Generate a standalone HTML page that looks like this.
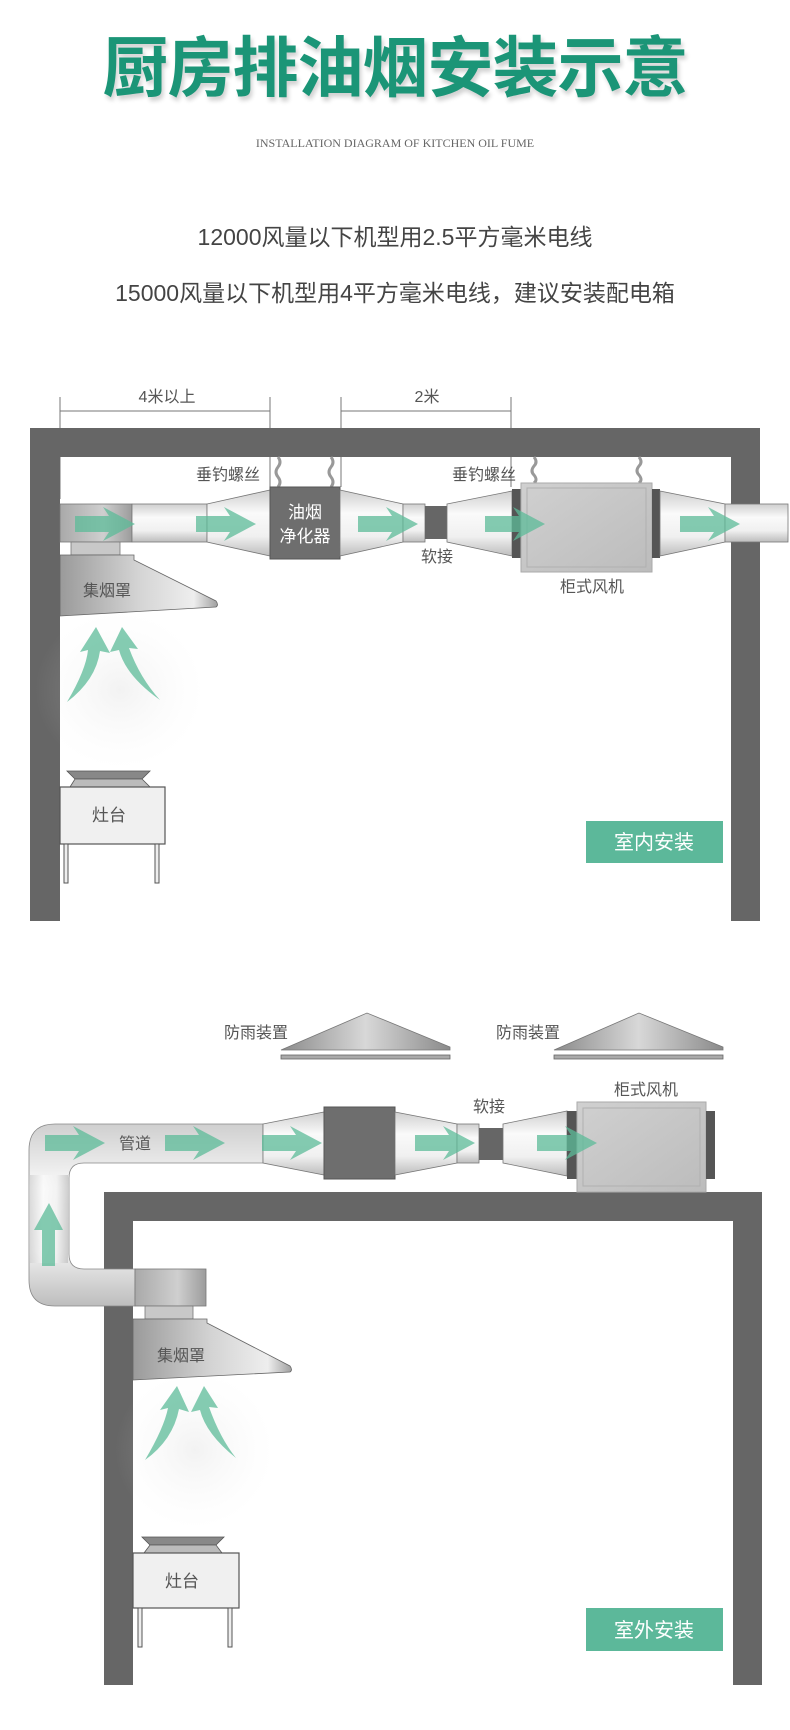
<!DOCTYPE html>
<html><head><meta charset="utf-8"><style>
html,body{margin:0;padding:0;background:#fff;}
body{width:790px;height:1730px;position:relative;overflow:hidden;font-family:"Liberation Sans","Noto Sans CJK SC",sans-serif;}
.t{position:absolute;left:0;width:790px;text-align:center;}
</style></head><body>
<div class="t" style="top:13px;font-size:66px;font-weight:bold;color:#1b9577;letter-spacing:-1px;line-height:100px;font-family:'Noto Sans CJK SC',sans-serif;text-shadow:2px 4px 4px rgba(0,0,0,0.18);">厨房排油烟安装示意</div>
<div class="t" style="top:134px;font-size:12px;color:#666;font-family:'Liberation Serif',serif;line-height:18px;">INSTALLATION DIAGRAM OF KITCHEN OIL FUME</div>
<div class="t" style="top:221px;font-size:23px;color:#444;line-height:32px;">12000风量以下机型用2.5平方毫米电线</div>
<div class="t" style="top:277px;font-size:23px;color:#444;line-height:32px;">15000风量以下机型用4平方毫米电线，建议安装配电箱</div>

<svg width="790" height="1730" style="position:absolute;left:0;top:0" xmlns="http://www.w3.org/2000/svg" font-family="Liberation Sans,Noto Sans CJK SC,sans-serif">
<defs>
<linearGradient id="pipe" x1="0" y1="0" x2="0" y2="1"><stop offset="0" stop-color="#cfcfcf"/><stop offset="0.35" stop-color="#fafafa"/><stop offset="0.7" stop-color="#f0f0f0"/><stop offset="1" stop-color="#bdbdbd"/></linearGradient>
<linearGradient id="pipeV" x1="0" y1="0" x2="1" y2="0"><stop offset="0" stop-color="#cfcfcf"/><stop offset="0.35" stop-color="#fafafa"/><stop offset="0.7" stop-color="#f0f0f0"/><stop offset="1" stop-color="#bdbdbd"/></linearGradient>
<linearGradient id="dark" x1="0" y1="0" x2="1" y2="0"><stop offset="0" stop-color="#a9a9a9"/><stop offset="0.6" stop-color="#cfcfcf"/><stop offset="1" stop-color="#9c9c9c"/></linearGradient>
<linearGradient id="hood" x1="0" y1="0" x2="1" y2="0"><stop offset="0" stop-color="#9a9a9a"/><stop offset="0.5" stop-color="#d4d4d4"/><stop offset="0.85" stop-color="#eeeeee"/><stop offset="1" stop-color="#a0a0a0"/></linearGradient>
<linearGradient id="roof" x1="0" y1="0" x2="1" y2="0"><stop offset="0" stop-color="#8a8a8a"/><stop offset="0.5" stop-color="#d8d8d8"/><stop offset="1" stop-color="#8a8a8a"/></linearGradient>
<linearGradient id="fan" x1="0" y1="0" x2="1" y2="1"><stop offset="0" stop-color="#d0d0d0"/><stop offset="1" stop-color="#bcbcbc"/></linearGradient>
<radialGradient id="smoke"><stop offset="0" stop-color="#ccc" stop-opacity="0.25"/><stop offset="1" stop-color="#eee" stop-opacity="0"/></radialGradient>
<path id="arr" d="M0,-8 H34 L28,-17 L60,0 L28,17 L34,8 H0 Z" fill="#5cbb98" fill-opacity="0.75"/>
</defs>

<!-- ============ SECTION 1 ============ -->
<g>
<g stroke="#777" stroke-width="1" fill="none">
<line x1="60" y1="397" x2="60" y2="499"/><line x1="270" y1="397" x2="270" y2="487"/><line x1="60" y1="411" x2="270" y2="411"/>
<line x1="341" y1="397" x2="341" y2="487"/><line x1="511" y1="397" x2="511" y2="487"/><line x1="341" y1="411" x2="511" y2="411"/>
</g>
<text x="167" y="402" font-size="16" fill="#555" text-anchor="middle">4米以上</text>
<text x="427" y="402" font-size="16" fill="#555" text-anchor="middle">2米</text>
<path d="M30,428 H760 V921 H731 V457 H60 V921 H30 Z" fill="#666"/>
<g stroke="#999" stroke-width="3" fill="none">
<path d="M278,457 q4,5 0,10 q-4,5 0,10 q4,5 0,10"/>
<path d="M331,457 q4,5 0,10 q-4,5 0,10 q4,5 0,10"/>
<path d="M534,457 q4,5 0,9 q-4,5 0,9 q4,5 0,8"/>
<path d="M639,457 q4,5 0,9 q-4,5 0,9 q4,5 0,8"/>
</g>
<text x="228" y="480" font-size="16" fill="#555" text-anchor="middle">垂钓螺丝</text>
<text x="484" y="480" font-size="16" fill="#555" text-anchor="middle">垂钓螺丝</text>
<rect x="60" y="504" width="72" height="38" fill="url(#dark)" stroke="#777" stroke-width="0.8"/>
<rect x="132" y="504" width="75" height="38" fill="url(#pipe)" stroke="#777" stroke-width="0.8"/>
<path d="M207,504 L270,490 V556 L207,542 Z" fill="url(#pipe)" stroke="#777" stroke-width="0.8"/>
<rect x="270" y="487" width="70" height="72" fill="#6e6e6e" stroke="#555"/>
<text x="305" y="518" font-size="17" fill="#fff" text-anchor="middle">油烟</text>
<text x="305" y="542" font-size="17" fill="#fff" text-anchor="middle">净化器</text>
<path d="M340,490 L403,504 V542 L340,556 Z" fill="url(#pipe)" stroke="#777" stroke-width="0.8"/>
<rect x="403" y="504" width="22" height="38" fill="url(#pipe)" stroke="#777" stroke-width="0.8"/>
<rect x="425" y="506" width="22" height="33" fill="#666"/>
<path d="M447,504 L512,491 V556 L447,542 Z" fill="url(#pipe)" stroke="#777" stroke-width="0.8"/>
<rect x="512" y="489" width="10" height="69" fill="#555"/>
<rect x="521" y="483" width="131" height="89" fill="url(#fan)" stroke="#aaa"/>
<rect x="527" y="488" width="119" height="79" fill="none" stroke="#b0b0b0"/>
<rect x="652" y="489" width="8" height="69" fill="#555"/>
<path d="M660,491 L725,504 V542 L660,556 Z" fill="url(#pipe)" stroke="#777" stroke-width="0.8"/>
<rect x="725" y="504" width="63" height="38" fill="url(#pipe)" stroke="#777" stroke-width="0.8"/>
<use href="#arr" x="75" y="524"/><use href="#arr" x="196" y="524"/><use href="#arr" x="358" y="524"/><use href="#arr" x="485" y="524"/><use href="#arr" x="680" y="524"/>
<text x="437" y="562" font-size="16" fill="#555" text-anchor="middle">软接</text>
<text x="592" y="592" font-size="16" fill="#555" text-anchor="middle">柜式风机</text>
<rect x="71" y="542" width="49" height="13" fill="#c8c8c8" stroke="#777" stroke-width="0.8"/>
<path d="M60,555 H134 V560 L216,601 Q219,605 216,607 L60,616 Z" fill="url(#hood)" stroke="#666" stroke-width="0.8"/>
<text x="107" y="596" font-size="16" fill="#555" text-anchor="middle">集烟罩</text>
<ellipse cx="120" cy="690" rx="85" ry="80" fill="url(#smoke)"/>
<path d="M67,702 Q86,670 88,650 L80,652 L96,627 L110,653 L100,651 Q96,680 67,702Z" fill="#5cbb98" fill-opacity="0.75"/>
<path d="M160,700 Q126,676 119,650 L110,652 L122,627 L138,649 L129,648 Q140,678 160,700Z" fill="#5cbb98" fill-opacity="0.75"/>
<path d="M67,771 H150 L142,779 H75 Z" fill="#888" stroke="#555" stroke-width="0.8"/>
<path d="M75,779 H142 L150,787 H70 Z" fill="#bbb" stroke="#555" stroke-width="0.8"/>
<rect x="60" y="787" width="105" height="57" fill="#f0f0f0" stroke="#555" stroke-width="1.2"/>
<text x="109" y="821" font-size="17" fill="#555" text-anchor="middle">灶台</text>
<rect x="64" y="844" width="4" height="39" fill="#eee" stroke="#555" stroke-width="1"/>
<rect x="155" y="844" width="4" height="39" fill="#eee" stroke="#555" stroke-width="1"/>
<rect x="586" y="821" width="137" height="42" fill="#5cb89a"/>
<text x="654" y="849" font-size="20" fill="#fff" text-anchor="middle">室内安装</text>
</g>

<!-- ============ SECTION 2 ============ -->
<g>
<text x="256" y="1038" font-size="16" fill="#555" text-anchor="middle">防雨装置</text>
<path d="M281,1050 L367,1013 L450,1047 V1050 Z" fill="url(#roof)" stroke="#777" stroke-width="0.8"/>
<rect x="281" y="1055" width="169" height="4" fill="#aaa" stroke="#666" stroke-width="0.8"/>
<text x="528" y="1038" font-size="16" fill="#555" text-anchor="middle">防雨装置</text>
<path d="M554,1050 L639,1013 L723,1047 V1050 Z" fill="url(#roof)" stroke="#777" stroke-width="0.8"/>
<rect x="554" y="1055" width="169" height="4" fill="#aaa" stroke="#666" stroke-width="0.8"/>
<path d="M104,1192 H762 V1685 H733 V1221 H133 V1685 H104 Z" fill="#666"/>
<path d="M263,1124 H55 Q29,1124 29,1150 V1280 Q29,1306 55,1306 H135 V1269 H84 Q69,1269 69,1254 V1178 Q69,1163 84,1163 H263 Z" fill="url(#pipe)" stroke="#888" stroke-width="0.8"/>
<rect x="30" y="1175" width="38" height="88" fill="url(#pipeV)" opacity="0.7"/>
<rect x="135" y="1269" width="71" height="37" fill="url(#dark)" stroke="#777" stroke-width="0.8"/>
<rect x="145" y="1306" width="48" height="13" fill="#c8c8c8" stroke="#777" stroke-width="0.8"/>
<path d="M133,1319 H207 V1323 L290,1366 Q293,1370 290,1372 L133,1380 Z" fill="url(#hood)" stroke="#666" stroke-width="0.8"/>
<text x="181" y="1361" font-size="16" fill="#555" text-anchor="middle">集烟罩</text>
<path d="M263,1124 L324,1112 V1175 L263,1163 Z" fill="url(#pipe)" stroke="#777" stroke-width="0.8"/>
<rect x="324" y="1107" width="71" height="72" fill="#6e6e6e" stroke="#555"/>
<path d="M395,1112 L457,1124 V1163 L395,1175 Z" fill="url(#pipe)" stroke="#777" stroke-width="0.8"/>
<rect x="457" y="1124" width="22" height="39" fill="url(#pipe)" stroke="#777" stroke-width="0.8"/>
<rect x="479" y="1128" width="24" height="32" fill="#666"/>
<path d="M503,1124 L567,1111 V1176 L503,1163 Z" fill="url(#pipe)" stroke="#777" stroke-width="0.8"/>
<rect x="567" y="1111" width="10" height="68" fill="#555"/>
<rect x="577" y="1102" width="129" height="90" fill="url(#fan)" stroke="#aaa"/>
<rect x="583" y="1108" width="117" height="78" fill="none" stroke="#b0b0b0"/>
<rect x="706" y="1111" width="9" height="68" fill="#555"/>
<text x="646" y="1095" font-size="16" fill="#555" text-anchor="middle">柜式风机</text>
<text x="489" y="1112" font-size="16" fill="#555" text-anchor="middle">软接</text>
<text x="135" y="1149" font-size="16" fill="#555" text-anchor="middle">管道</text>
<use href="#arr" x="45" y="1143"/><use href="#arr" x="165" y="1143"/><use href="#arr" x="262" y="1143"/><use href="#arr" x="415" y="1143"/><use href="#arr" x="537" y="1143"/>
<path d="M42,1266 V1230 H34 L49,1203 L63,1230 H55 V1266 Z" fill="#5cbb98" fill-opacity="0.75"/>
<ellipse cx="195" cy="1450" rx="80" ry="80" fill="url(#smoke)"/>
<path d="M145,1460 Q164,1428 168,1408 L160,1410 L177,1386 L189,1412 L179,1409 Q173,1440 145,1460Z" fill="#5cbb98" fill-opacity="0.75"/>
<path d="M236,1458 Q206,1434 200,1410 L191,1412 L204,1386 L218,1408 L209,1407 Q220,1438 236,1458Z" fill="#5cbb98" fill-opacity="0.75"/>
<path d="M142,1537 H224 L216,1545 H150 Z" fill="#888" stroke="#555" stroke-width="0.8"/>
<path d="M150,1545 H216 L222,1553 H144 Z" fill="#bbb" stroke="#555" stroke-width="0.8"/>
<rect x="133" y="1553" width="106" height="55" fill="#f0f0f0" stroke="#555" stroke-width="1.2"/>
<text x="182" y="1587" font-size="17" fill="#555" text-anchor="middle">灶台</text>
<rect x="138" y="1608" width="4" height="39" fill="#eee" stroke="#555" stroke-width="1"/>
<rect x="228" y="1608" width="4" height="39" fill="#eee" stroke="#555" stroke-width="1"/>
<rect x="586" y="1608" width="137" height="43" fill="#5cb89a"/>
<text x="654" y="1637" font-size="20" fill="#fff" text-anchor="middle">室外安装</text>
</g>
</svg>
</body></html>
